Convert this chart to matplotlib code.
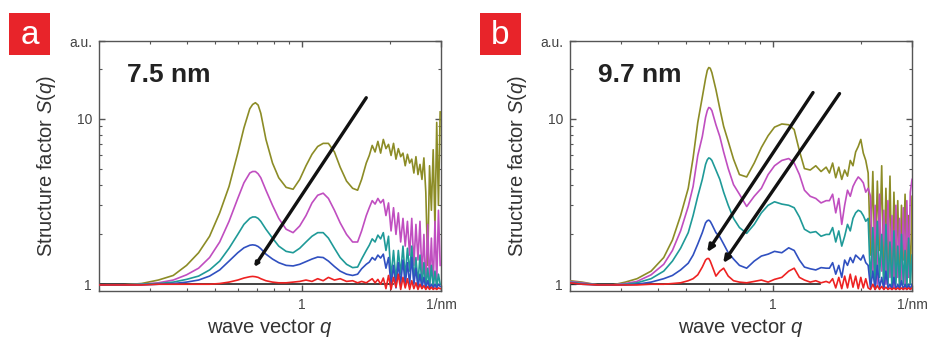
import matplotlib
matplotlib.use('Agg')
import matplotlib.pyplot as plt
from matplotlib.patches import Rectangle
from matplotlib.ticker import NullFormatter, FixedLocator, LogLocator

plt.rcParams['font.family'] = ['Liberation Sans', 'DejaVu Sans']
plt.rcParams['mathtext.fontset'] = 'custom'
plt.rcParams['mathtext.it'] = 'Liberation Sans:italic'
plt.rcParams['mathtext.rm'] = 'Liberation Sans'

# ---- panel a (7.5 nm) ----
qa_smooth = [0.20, 0.24, 0.28, 0.32, 0.36, 0.40, 0.44, 0.48, 0.52, 0.56, 0.60, 0.63, 0.66,
             0.675, 0.69, 0.705, 0.72, 0.75, 0.79, 0.83, 0.88, 0.93, 0.98, 1.03, 1.08, 1.13,
             1.18, 1.23, 1.29, 1.35, 1.42, 1.49, 1.55, 1.60, 1.66]
qa_noisy = [1.70, 1.74, 1.78, 1.82, 1.86, 1.90, 1.94, 1.98, 2.02, 2.06, 2.10, 2.14, 2.18,
            2.22, 2.26, 2.30, 2.34, 2.38, 2.42, 2.46, 2.50, 2.54, 2.58, 2.62, 2.66, 2.70,
            2.74, 2.78, 2.82, 2.86, 2.90, 2.94, 2.98]

a_olive = [0.99, 0.99, 1.01, 1.06, 1.13, 1.30, 1.55, 1.95, 2.70, 3.90, 6.20, 8.80, 11.5,
           12.2, 12.5, 12.1, 10.8, 7.50, 5.40, 4.40, 3.85, 3.75, 4.30, 5.20, 6.10, 6.80,
           7.10, 7.10, 6.30, 5.10, 4.20, 3.80, 3.70, 4.30, 5.40]
a_olive_n = [6.0, 6.9, 6.3, 7.3, 6.2, 7.5, 6.6, 7.0, 6.0, 7.1, 5.7, 6.6, 5.9, 6.2, 5.2, 6.1,
             5.4, 5.7, 4.7, 5.9, 4.6, 5.3, 4.3, 5.8, 3.6, 1.3, 5.2, 2.8, 6.5, 2.2, 9.5, 3.0, 11.0]
a_magenta = [0.99, 0.99, 1.00, 1.02, 1.06, 1.14, 1.25, 1.45, 1.80, 2.40, 3.30, 4.10, 4.70,
             4.80, 4.80, 4.65, 4.40, 3.70, 3.00, 2.50, 2.15, 2.05, 2.25, 2.60, 3.10, 3.45,
             3.55, 3.30, 2.80, 2.35, 2.00, 1.80, 1.80, 2.10, 2.60]
a_magenta_n = [2.9, 3.2, 3.05, 3.3, 3.1, 3.25, 2.6, 3.1, 2.1, 2.9, 2.0, 2.7, 1.8, 2.5, 1.7,
               2.4, 1.5, 2.5, 1.3, 2.3, 1.4, 2.4, 1.1, 2.0, 0.95, 2.3, 1.0, 1.9, 0.95, 2.4,
               1.0, 2.8, 1.3]
a_teal = [0.99, 0.99, 1.00, 1.01, 1.03, 1.07, 1.12, 1.22, 1.38, 1.65, 2.00, 2.30, 2.50,
          2.55, 2.55, 2.50, 2.40, 2.15, 1.90, 1.70, 1.58, 1.55, 1.65, 1.80, 1.95, 2.05,
          2.05, 1.90, 1.65, 1.45, 1.32, 1.26, 1.27, 1.42, 1.60]
a_teal_n = [1.72, 1.88, 1.80, 1.98, 1.88, 2.05, 1.60, 1.95, 1.10, 1.60, 1.05, 1.60, 1.15,
            1.70, 1.10, 1.65, 1.20, 1.70, 1.05, 1.45, 1.00, 1.50, 0.95, 1.35, 0.95, 1.25,
            0.95, 1.30, 0.95, 1.20, 0.95, 1.15, 1.00]
a_blue = [0.99, 0.99, 0.99, 1.00, 1.01, 1.03, 1.06, 1.12, 1.22, 1.38, 1.55, 1.66, 1.72,
          1.73, 1.72, 1.69, 1.64, 1.52, 1.42, 1.35, 1.30, 1.29, 1.32, 1.37, 1.42, 1.46,
          1.45, 1.38, 1.28, 1.20, 1.15, 1.13, 1.15, 1.24, 1.32]
a_blue_n = [1.36, 1.45, 1.40, 1.50, 1.44, 1.52, 1.25, 1.45, 0.98, 1.30, 0.95, 1.35, 1.00,
            1.40, 0.98, 1.35, 1.00, 1.45, 1.00, 1.25, 0.95, 1.15, 0.95, 1.10, 0.95, 1.05,
            0.95, 1.00, 0.95, 1.00, 0.95, 1.00, 0.97]
a_red = [0.99, 0.99, 0.99, 1.00, 1.00, 1.00, 1.00, 1.00, 1.01, 1.03, 1.06, 1.09, 1.11,
         1.115, 1.11, 1.10, 1.08, 1.05, 1.03, 1.02, 1.02, 1.03, 1.04, 1.06, 1.04, 1.08,
         1.05, 1.10, 1.06, 1.08, 1.04, 1.05, 1.02, 1.04, 1.02]
a_red_n = [1.05, 1.08, 1.02, 1.07, 1.00, 1.09, 0.94, 1.13, 0.93, 1.10, 0.96, 1.15, 0.93,
           1.10, 0.95, 1.08, 0.93, 1.05, 0.94, 1.02, 0.93, 1.00, 0.94, 0.98, 0.93, 0.97,
           0.93, 0.96, 0.93, 0.95, 0.93, 0.95, 0.94]
a_black_q = [0.20, 2.05]
a_black_s = [1.0, 1.0]
a_arrows = [((1.66, 13.4), (0.683, 1.27))]

# ---- panel b (9.7 nm) ----
qb_smooth = [0.20, 0.22, 0.25, 0.28, 0.31, 0.34, 0.38, 0.42, 0.45, 0.48, 0.51, 0.53, 0.55,
             0.57, 0.585, 0.593, 0.60, 0.607, 0.615, 0.635, 0.655, 0.675, 0.70, 0.73, 0.765,
             0.81, 0.86, 0.91, 0.96, 1.01, 1.07, 1.13, 1.18, 1.23, 1.28, 1.34, 1.40, 1.46,
             1.52]
qb_noisy = [1.56, 1.60, 1.64, 1.68, 1.72, 1.76, 1.80, 1.84, 1.88, 1.92, 1.96, 2.00, 2.04,
            2.08, 2.12, 2.16, 2.20, 2.24, 2.28, 2.32, 2.36, 2.40, 2.44, 2.48, 2.52, 2.56,
            2.60, 2.64, 2.68, 2.72, 2.76, 2.80, 2.84, 2.88, 2.92, 2.96, 3.00]

b_olive = [1.05, 1.03, 0.99, 0.99, 1.03, 1.08, 1.20, 1.45, 1.85, 2.60, 3.80, 5.80, 9.50,
           13.5, 17.5, 19.6, 20.4, 20.2, 19.0, 15.0, 11.5, 9.00, 7.30, 5.70, 4.60, 4.45,
           5.40, 6.70, 7.90, 8.90, 9.30, 9.20, 8.60, 6.40, 5.00, 4.90, 5.20, 4.80, 5.10]
b_olive_n = [4.7, 5.4, 4.4, 5.1, 4.3, 4.9, 4.5, 5.6, 5.2, 6.3, 6.8, 7.5, 6.2, 5.6, 4.7, 1.5,
             4.8, 1.2, 4.2, 1.6, 5.2, 1.1, 3.8, 1.3, 4.5, 1.0, 3.6, 1.2, 3.2, 1.0, 3.0, 1.4,
             3.5, 1.1, 2.6, 1.0, 3.4]
b_magenta = [1.04, 1.02, 0.99, 0.99, 1.01, 1.04, 1.14, 1.32, 1.60, 2.10, 2.95, 3.90, 6.00,
             7.80, 10.2, 11.2, 11.7, 11.6, 11.2, 9.20, 7.80, 6.30, 5.00, 4.00, 3.50, 2.95,
             3.40, 3.80, 4.60, 5.20, 5.60, 5.75, 5.40, 4.60, 3.70, 3.40, 3.30, 3.10, 3.20]
b_magenta_n = [3.2, 3.5, 2.7, 3.3, 2.3, 3.0, 3.7, 3.4, 3.9, 4.2, 4.45, 4.3, 4.1, 3.6, 3.8,
               3.4, 1.1, 3.0, 1.0, 3.5, 1.2, 2.8, 1.0, 3.2, 1.1, 2.6, 0.95, 3.0, 1.1, 2.5,
               1.0, 2.9, 1.0, 3.2, 1.1, 3.6, 4.3]
b_teal = [1.03, 1.01, 0.99, 0.99, 1.00, 1.02, 1.08, 1.20, 1.38, 1.65, 2.05, 2.60, 3.40,
          4.30, 5.30, 5.65, 5.80, 5.75, 5.60, 4.90, 4.30, 3.60, 3.00, 2.50, 2.20, 2.03,
          2.30, 2.70, 3.00, 3.15, 3.05, 3.00, 2.90, 2.55, 2.15, 2.05, 2.08, 1.95, 2.00]
b_teal_n = [2.0, 2.2, 1.8, 2.1, 1.7, 1.95, 2.3, 2.1, 2.5, 2.7, 2.8, 2.75, 2.6, 2.4, 2.5, 1.0,
            2.2, 0.95, 2.4, 1.1, 2.0, 0.95, 2.3, 1.0, 1.8, 0.95, 2.1, 1.0, 1.7, 0.95, 2.0,
            1.0, 1.6, 0.95, 1.9, 1.0, 1.5]
b_blue = [1.02, 1.00, 0.99, 0.99, 0.99, 1.00, 1.03, 1.08, 1.13, 1.22, 1.34, 1.50, 1.75,
          2.05, 2.35, 2.42, 2.44, 2.40, 2.30, 2.05, 1.93, 1.75, 1.55, 1.42, 1.30, 1.25,
          1.38, 1.48, 1.52, 1.58, 1.55, 1.66, 1.60, 1.40, 1.27, 1.24, 1.22, 1.26, 1.25]
b_blue_n = [1.25, 1.35, 1.15, 1.30, 1.10, 1.40, 1.30, 1.45, 1.35, 1.50, 1.45, 1.40, 1.50,
            1.35, 1.30, 0.95, 1.20, 0.93, 1.30, 0.95, 1.10, 0.93, 1.20, 0.95, 1.00, 0.93,
            1.10, 0.93, 1.00, 0.93, 1.05, 0.93, 1.00, 0.93, 1.00, 0.93, 1.00]
b_red = [1.02, 1.00, 0.99, 0.99, 0.99, 0.99, 1.00, 1.00, 1.01, 1.02, 1.05, 1.08, 1.14,
         1.27, 1.40, 1.43, 1.43, 1.38, 1.30, 1.12, 1.20, 1.25, 1.12, 1.05, 1.03, 1.02,
         1.04, 1.06, 1.03, 1.07, 1.10, 1.20, 1.25, 1.10, 1.06, 1.03, 1.05, 1.02, 1.04]
b_red_n = [1.02, 1.08, 0.95, 1.10, 0.94, 1.12, 0.95, 1.15, 0.96, 1.12, 0.94, 1.10, 0.95,
           1.08, 0.95, 0.93, 1.00, 0.93, 0.98, 0.93, 0.97, 0.93, 0.96, 0.93, 0.95, 0.93,
           0.95, 0.93, 0.95, 0.93, 0.95, 0.93, 0.95, 0.93, 0.95, 0.93, 0.95]
b_black_q = [0.20, 1.45]
b_black_s = [1.0, 1.0]
b_arrows = [((1.37, 14.4), (0.592, 1.56)), ((1.69, 14.2), (0.672, 1.34))]

colors = {'olive': '#8c8c26', 'magenta': '#c04ec0', 'teal': '#1f9a98',
          'blue': '#3050c0', 'red': '#ee2222'}

fig = plt.figure(figsize=(9.29, 3.41), dpi=100)


def draw_panel(left, letter, size_text, q_s, q_n, curves, black_q, black_s, arrows, head):
    ax = fig.add_axes([left, 0.1466, 0.3681, 0.7331])
    ax.set_xscale('log')
    ax.set_yscale('log')
    ax.plot(black_q, black_s, color='#222222', lw=1.2, zorder=2)
    for name, s_smooth, s_noisy in curves:
        ax.plot(q_s + q_n, s_smooth + s_noisy, color=colors[name], lw=1.2, zorder=3)
    for start, end in arrows:
        ax.annotate('', xy=end, xytext=start,
                    arrowprops=dict(arrowstyle=head, color='#111111', lw=2.4,
                                    shrinkA=0, shrinkB=0), zorder=5)
    ax.set_xlim(0.2, 3.0)
    ax.set_ylim(0.91, 29.5)
    ax.xaxis.set_major_locator(FixedLocator([1, 3]))
    ax.set_xticklabels(['1', '1/nm'])
    ax.xaxis.set_minor_locator(LogLocator(base=10, subs=range(2, 10)))
    ax.xaxis.set_minor_formatter(NullFormatter())
    ax.yaxis.set_major_locator(FixedLocator([1, 10, 29.5]))
    ax.set_yticklabels(['1', '10', 'a.u.'])
    ax.yaxis.set_minor_locator(LogLocator(base=10, subs=range(2, 10)))
    ax.yaxis.set_minor_formatter(NullFormatter())
    ax.tick_params(which='both', direction='in', top=True, right=True,
                   color='#555555', labelcolor='#444444', labelsize=10, pad=5)
    ax.tick_params(which='major', length=4, width=1)
    ax.tick_params(which='minor', length=2.5, width=0.8)
    for sp in ax.spines.values():
        sp.set_color('#555555')
        sp.set_linewidth(1.0)
    ax.set_ylabel('Structure factor $\\it{S}$($\\it{q}$)', fontsize=14.5, color='#333333')
    ax.yaxis.set_label_coords(-0.12, 0.5)
    ax.set_xlabel('wave vector $\\it{q}$', fontsize=14.5, color='#333333', va='top')
    ax.xaxis.set_label_coords(0.5, -0.105)
    ax.text(0.082, 0.865, size_text, transform=ax.transAxes, fontsize=19,
            fontweight='bold', color='#222222', ha='left', va='center')
    # red panel letter box
    bx = left - 0.0969
    fig.patches.append(Rectangle((bx, 0.8387), 0.0441, 0.1232, transform=fig.transFigure,
                                 facecolor='#e8242a', edgecolor='none'))
    fig.text(bx + 0.0441 / 2, 0.8387 + 0.1232 / 2 - 0.005, letter, color='white',
             fontsize=24, ha='center', va='center')
    return ax


curves_a = [('olive', a_olive, a_olive_n), ('magenta', a_magenta, a_magenta_n),
            ('teal', a_teal, a_teal_n), ('blue', a_blue, a_blue_n), ('red', a_red, a_red_n)]
curves_b = [('olive', b_olive, b_olive_n), ('magenta', b_magenta, b_magenta_n),
            ('teal', b_teal, b_teal_n), ('blue', b_blue, b_blue_n), ('red', b_red, b_red_n)]

draw_panel(0.1066, 'a', '7.5 nm', qa_smooth, qa_noisy, curves_a, a_black_q, a_black_s,
           a_arrows, '-|>,head_length=0.2,head_width=0.1')
draw_panel(0.6136, 'b', '9.7 nm', qb_smooth, qb_noisy, curves_b, b_black_q, b_black_s,
           b_arrows, '-|>,head_length=0.4,head_width=0.18')

fig.savefig('out.png', dpi=100)
